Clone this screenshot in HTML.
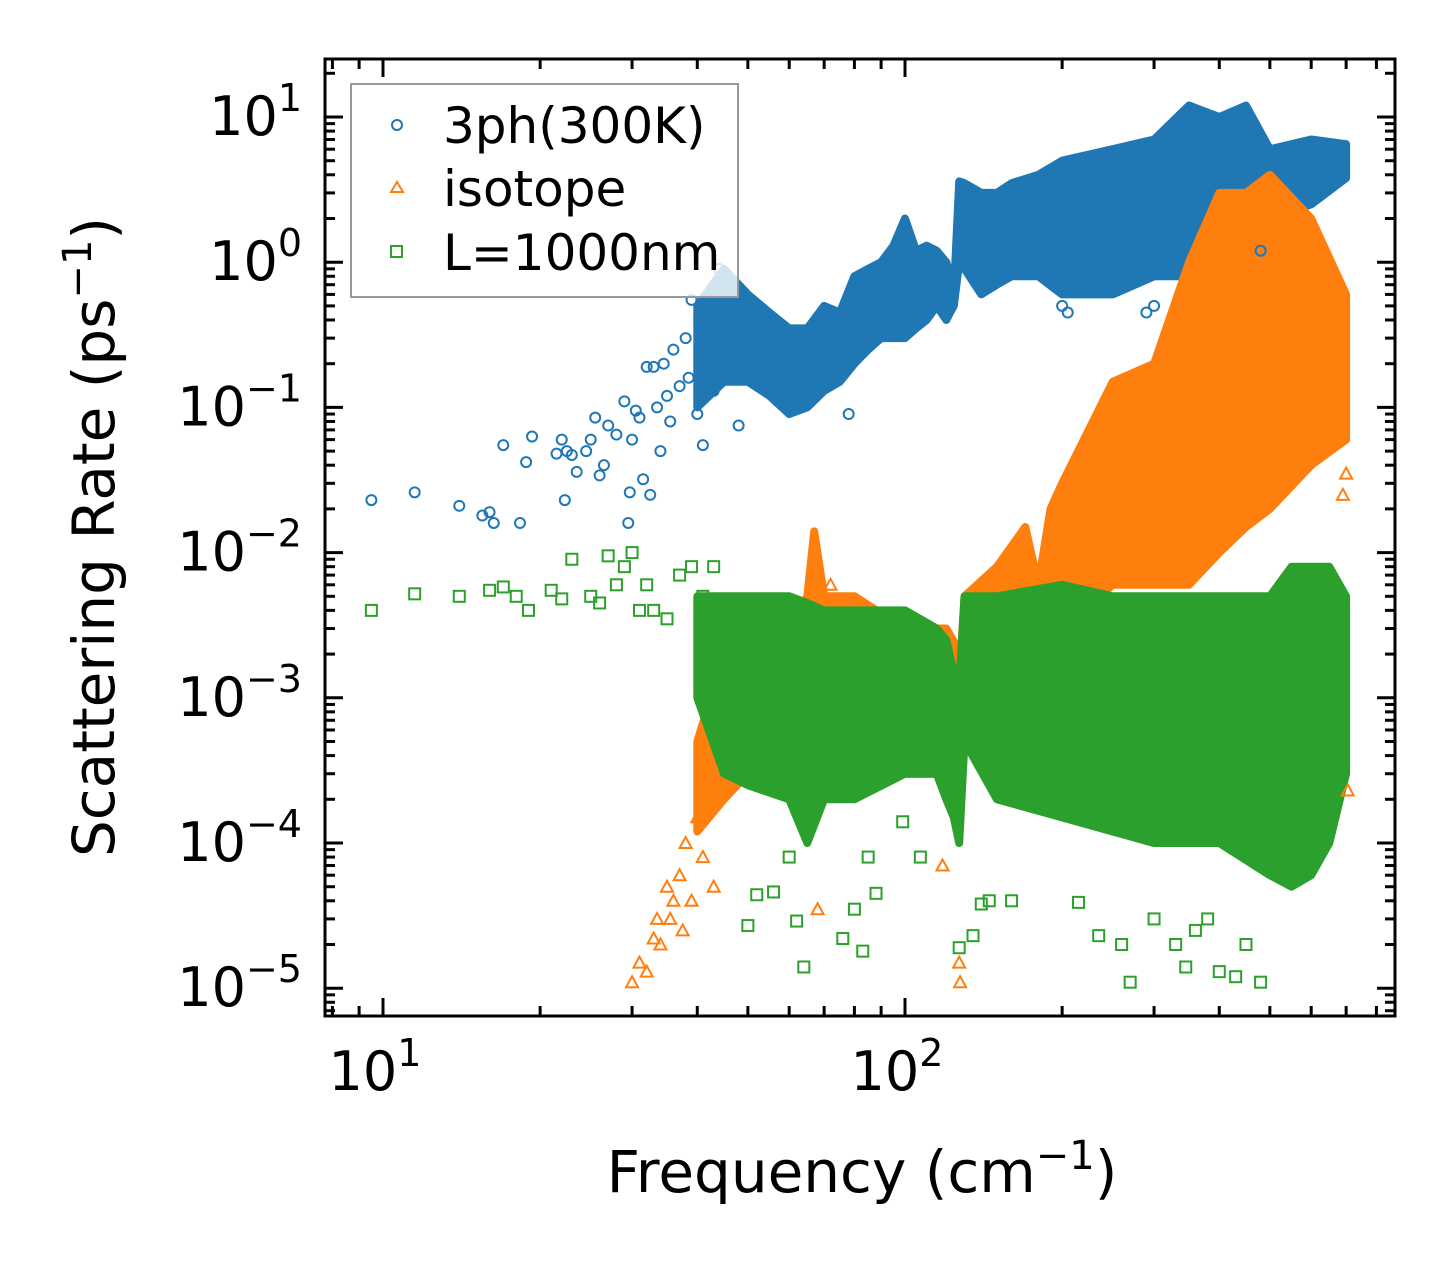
<!DOCTYPE html>
<html><head><meta charset="utf-8"><style>
body{margin:0;background:#fff}
svg text{font-family:"DejaVu Sans","Liberation Sans",sans-serif;fill:#000}
</style></head><body>
<svg id="chart" width="1455" height="1265" viewBox="0 0 1455 1265" xmlns="http://www.w3.org/2000/svg">
<g id="bands"></g>
<g id="pts"></g>
<g id="axes"></g>
<g>
<rect x="351" y="84" width="387" height="213" fill="#fff" fill-opacity="0.8" stroke="#999" stroke-width="2"/>
<circle cx="397" cy="125" r="5" fill="none" stroke="#1f77b4" stroke-width="2"/>
<text x="443" y="143" font-size="50">3ph(300K)</text>
<polygon points="397,182 403,192 391,192" fill="none" stroke="#ff7f0e" stroke-width="2"/>
<text x="443" y="206" font-size="50">isotope</text>
<rect x="391" y="246" width="11" height="11" fill="none" stroke="#2ca02c" stroke-width="2"/>
<text x="443" y="270" font-size="50">L=1000nm</text>
</g>
<text x="862" y="1192" font-size="58" text-anchor="middle">Frequency (cm<tspan dy="-23" font-size="40">−1</tspan><tspan dy="23">)</tspan></text>
<text transform="translate(114,537) rotate(-90)" font-size="58" text-anchor="middle">Scattering Rate (ps<tspan dy="-23" font-size="40">−1</tspan><tspan dy="23">)</tspan></text>
</svg>
<script>
// ---- data ----
const blueSparseF=[9.5,11.5,14,15.5,16,16.3,17,18.3,18.8,19.3,21.5,22,22.3,22.5,23,23.5,24.5,25,25.5,26,26.5,27,28,29,29.5,29.7,30,30.5,31,31.5,32,32.5,33,33.5,34,34.5,35,35.5,36,37,38,38.5,39,40,41,42,43,44,45,46,48,78,200,205,290,300,480];
const blueSparseY=[0.023,0.026,0.021,0.018,0.019,0.016,0.055,0.016,0.042,0.063,0.048,0.06,0.023,0.05,0.047,0.036,0.05,0.06,0.085,0.034,0.04,0.075,0.065,0.11,0.016,0.026,0.06,0.095,0.085,0.032,0.19,0.025,0.19,0.1,0.05,0.2,0.12,0.08,0.25,0.14,0.3,0.16,0.55,0.09,0.055,0.35,0.13,0.9,0.2,0.65,0.075,0.09,0.5,0.45,0.45,0.5,1.2];
const blueBandF=[40,45,50,55,60,65,70,75,80,85,90,95,100,105,110,115,120,122,124,127,130,140,150,160,180,200,250,300,350,400,450,500,600,700];
const blueBandLo=[0.1,0.15,0.15,0.12,0.09,0.1,0.13,0.15,0.2,0.25,0.3,0.3,0.3,0.35,0.4,0.5,0.4,0.45,0.5,1.0,0.9,0.6,0.7,0.8,0.8,0.6,0.6,0.8,0.8,1.2,1.5,2,2.5,3.8];
const blueBandHi=[0.5,0.9,0.6,0.45,0.35,0.35,0.5,0.45,0.8,0.9,1.0,1.3,2,1.2,1.3,1.2,1.0,0.8,0.6,3.6,3.5,3.0,3.0,3.5,4,5,6,7,12,10,12,6,7,6.5];
const orangeSparseF=[30,31,32,33,33.5,34,35,35.5,36,37,37.5,38,39,40,41,42,43,68,72,118,127,127.5,690,700,705];
const orangeSparseY=[1.1e-5,1.5e-5,1.3e-5,2.2e-5,3e-5,2e-5,5e-5,3e-5,4e-5,6e-5,2.5e-5,1e-4,4e-5,1.5e-4,8e-5,2e-4,5e-5,3.5e-5,6e-3,7e-5,1.5e-5,1.1e-5,0.025,0.035,2.3e-4];
const orangeBandF=[40,45,50,60,65,67,70,80,100,120,128,130,150,170,180,190,200,250,300,350,400,450,500,600,700];
const orangeBandLo=[1.2e-4,2e-4,3e-4,3e-4,3e-4,3e-4,3e-4,3e-4,3e-4,3e-4,3e-4,5e-4,5e-4,6e-4,1e-3,3e-3,3e-3,6e-3,6e-3,6e-3,1e-2,1.5e-2,2e-2,4e-2,6e-2];
const orangeBandHi=[5e-4,2e-3,2e-3,3e-3,5e-3,1.4e-2,5e-3,5e-3,3e-3,3e-3,2e-3,5e-3,8e-3,1.5e-2,6e-3,2e-2,3e-2,1.5e-1,2e-1,1,3,3,4,2,0.6];
const greenSparseF=[9.5,11.5,14,16,17,18,19,21,22,23,25,26,27,28,29,30,31,32,33,35,37,39,41,43,50,52,56,60,62,64,76,80,83,85,88,99,107,127,135,140,145,160,215,235,260,270,300,330,345,360,380,400,430,450,480];
const greenSparseY=[4e-3,5.2e-3,5e-3,5.5e-3,5.8e-3,5e-3,4e-3,5.5e-3,4.8e-3,9e-3,5e-3,4.5e-3,9.5e-3,6e-3,8e-3,1e-2,4e-3,6e-3,4e-3,3.5e-3,7e-3,8e-3,5e-3,8e-3,2.7e-5,4.4e-5,4.6e-5,8e-5,2.9e-5,1.4e-5,2.2e-5,3.5e-5,1.8e-5,8e-5,4.5e-5,1.4e-4,8e-5,1.9e-5,2.3e-5,3.8e-5,4e-5,4e-5,3.9e-5,2.3e-5,2e-5,1.1e-5,3e-5,2e-5,1.4e-5,2.5e-5,3e-5,1.3e-5,1.2e-5,2e-5,1.1e-5];
const greenBandF=[40,45,50,60,65,70,80,100,115,120,124,127,130,150,200,250,300,400,500,550,600,650,700];
const greenBandLo=[1e-3,3e-4,2.5e-4,2e-4,1e-4,2e-4,2e-4,3e-4,3e-4,2e-4,1.5e-4,1e-4,5e-4,2e-4,1.5e-4,1.2e-4,1e-4,1e-4,6e-5,5e-5,6e-5,1e-4,3e-4];
const greenBandHi=[5e-3,5e-3,5e-3,5e-3,4.5e-3,4e-3,4e-3,4e-3,3e-3,2.5e-3,1.5e-3,1.2e-3,5e-3,5e-3,6e-3,5e-3,5e-3,5e-3,5e-3,8e-3,8e-3,8e-3,5e-3];
const xTickVals=[1,2];
const yTickVals=[1,0,-1,-2,-3,-4,-5];

// ---- axes ----
const L=325,R=1395,T=59,B=1016;
const X0=383,XD=522,Y0=117,YD=145.2;
const xs=f=>X0+XD*(Math.log10(f)-1);
const ys=v=>Y0+YD*(1-Math.log10(v));
const NS="http://www.w3.org/2000/svg";
function mk(tag,attrs,parent){const e=document.createElementNS(NS,tag);for(const k in attrs)e.setAttribute(k,attrs[k]);parent.appendChild(e);return e;}
const bands=document.getElementById('bands'),pts=document.getElementById('pts'),axes=document.getElementById('axes');

function band(F,Lo,Hi,color,name){
  let p=[];
  F.forEach((f,i)=>p.push(xs(f).toFixed(1)+','+ys(Hi[i]).toFixed(1)));
  for(let i=F.length-1;i>=0;i--)p.push(xs(F[i]).toFixed(1)+','+ys(Lo[i]).toFixed(1));
  const e=mk('polygon',{points:p.join(' '),fill:color,stroke:color,'stroke-width':8,'stroke-linejoin':'round'},bands);
  
  
}
function points(F,Y,kind,color,name){
  F.forEach((f,i)=>{
    const x=xs(f),y=ys(Y[i]);let e;
    if(kind==='c')e=mk('circle',{cx:x,cy:y,r:5,fill:'none',stroke:color,'stroke-width':2},pts);
    else if(kind==='t')e=mk('polygon',{points:`${x},${y-6} ${x+6},${y+5} ${x-6},${y+5}`,fill:'none',stroke:color,'stroke-width':2},pts);
    else e=mk('rect',{x:x-5.5,y:y-5.5,width:11,height:11,fill:'none',stroke:color,'stroke-width':2},pts);
    
    
  });
}
band(blueBandF,blueBandLo,blueBandHi,'#1f77b4','band-3ph');
band(orangeBandF,orangeBandLo,orangeBandHi,'#ff7f0e','band-isotope');
band(greenBandF,greenBandLo,greenBandHi,'#2ca02c','band-boundary');
points(blueSparseF,blueSparseY,'c','#1f77b4','point-3ph');
points(orangeSparseF,orangeSparseY,'t','#ff7f0e','point-isotope');
points(greenSparseF,greenSparseY,'s','#2ca02c','point-boundary');

// frame
const fr=mk('rect',{x:L,y:T,width:R-L,height:B-T,fill:'none',stroke:'#000','stroke-width':3},axes);


function tick(x1,y1,x2,y2,name){const e=mk('line',{x1,y1,x2,y2,stroke:'#000','stroke-width':3},axes);

}
for(let d=0;d<=2;d++)for(let m=1;m<10;m++){
  const f=m*Math.pow(10,d);const x=xs(f);if(x<L||x>R)continue;
  const len=m===1?18:10;
  tick(x,B,x,B-len,'x-tick');tick(x,T,x,T+len,'x-tick-top');
}
xTickVals.forEach(p=>{const t=mk('text',{x:xs(Math.pow(10,p))-8,y:1090,'font-size':54,'text-anchor':'middle'},axes);


t.innerHTML='10<tspan dy="-24" font-size="38">'+p+'</tspan>';});
for(let d=-6;d<=1;d++)for(let m=1;m<10;m++){
  const v=m*Math.pow(10,d);const y=ys(v);if(y<T||y>B)continue;
  const len=m===1?18:10;
  tick(L,y,L+len,y,'y-tick');tick(R,y,R-len,y,'y-tick-right');
}
yTickVals.forEach(p=>{const t=mk('text',{x:302,y:ys(Math.pow(10,p))+18,'font-size':54,'text-anchor':'end'},axes);


t.innerHTML='10<tspan dy="-24" font-size="38">'+(p<0?'−'+(-p):p)+'</tspan>';});
</script>
</body></html>
